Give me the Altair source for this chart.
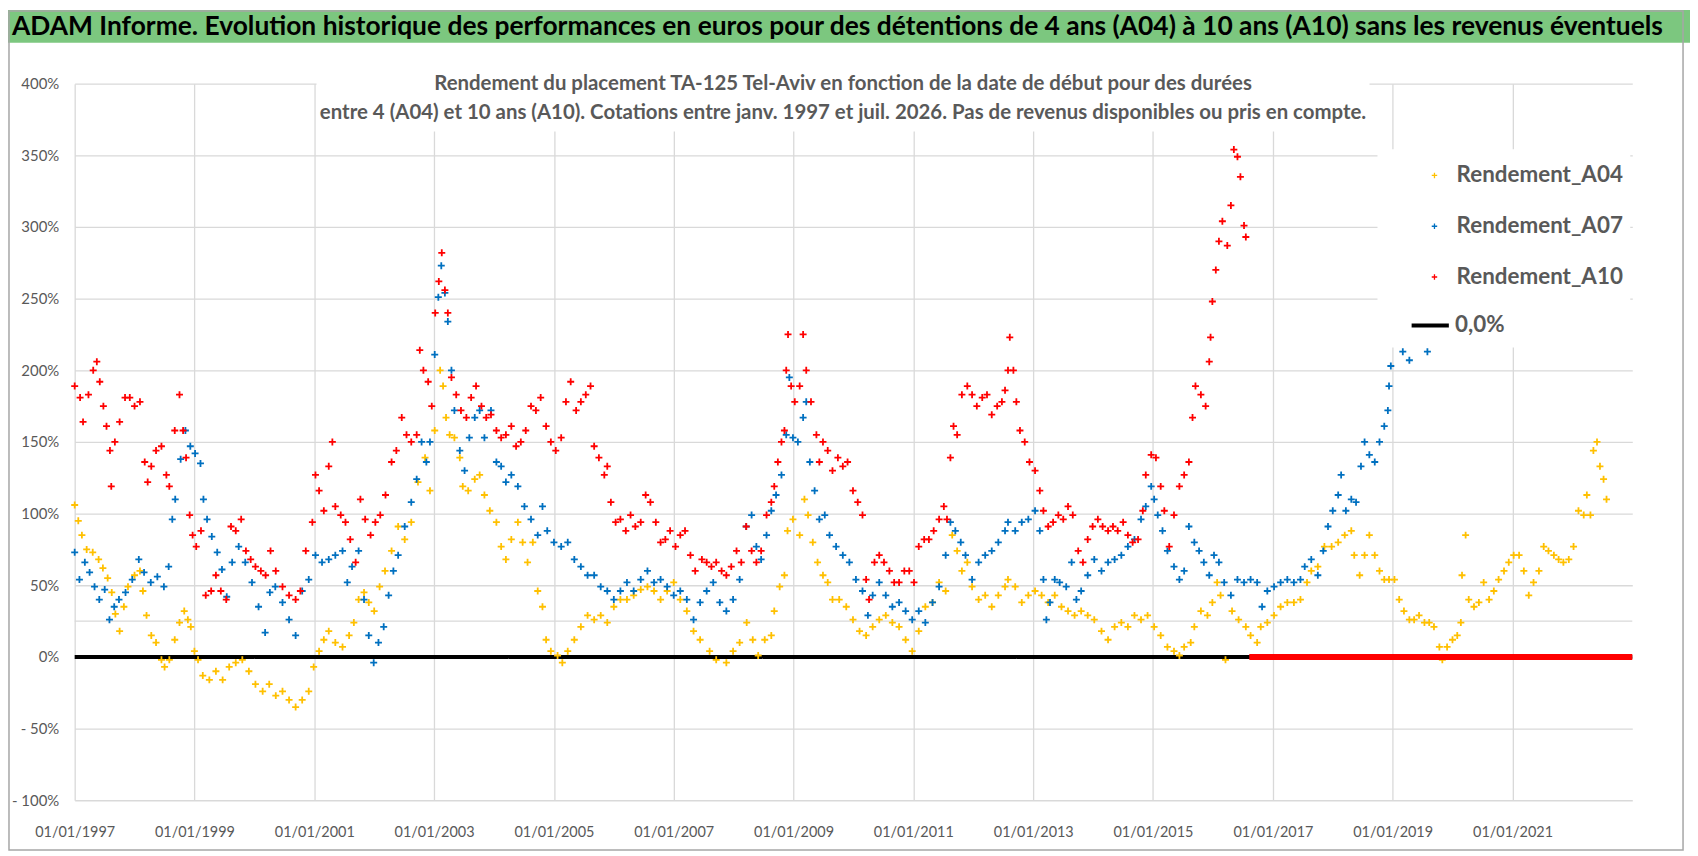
import altair as alt
import pandas as pd

# --- data (decimal year, % return) ---
a04_years = [
    1997.00, 1997.06, 1997.12, 1997.20, 1997.30, 1997.40, 1997.47, 1997.55, 1997.62, 1997.68,
    1997.75, 1997.82, 1997.89, 1998.00, 1998.09, 1998.14, 1998.20, 1998.28, 1998.36, 1998.45,
    1998.50, 1998.58, 1998.67, 1998.75, 1998.83, 1998.89, 1998.94, 1999.00, 1999.06, 1999.14,
    1999.25, 1999.36, 1999.47, 1999.58, 1999.69, 1999.80, 1999.91, 2000.02, 2000.14, 2000.25,
    2000.36, 2000.47, 2000.58, 2000.69, 2000.80, 2000.91, 2000.99, 2001.08, 2001.16, 2001.24,
    2001.35, 2001.47, 2001.58, 2001.66, 2001.74, 2001.83, 2001.91, 2002.00, 2002.09, 2002.18,
    2002.29, 2002.40, 2002.51, 2002.62, 2002.73, 2002.85, 2002.93, 2003.01, 2003.10, 2003.15,
    2003.20, 2003.26, 2003.34, 2003.43, 2003.48, 2003.57, 2003.68, 2003.76, 2003.84, 2003.93,
    2004.04, 2004.12, 2004.20, 2004.29, 2004.40, 2004.48, 2004.56, 2004.65, 2004.73, 2004.81,
    2004.87, 2004.95, 2005.06, 2005.14, 2005.23, 2005.34, 2005.45, 2005.56, 2005.67, 2005.78,
    2005.89, 2006.00, 2006.11, 2006.22, 2006.33, 2006.45, 2006.56, 2006.67, 2006.78, 2006.89,
    2007.00, 2007.11, 2007.22, 2007.33, 2007.44, 2007.60, 2007.71, 2007.88, 2007.99, 2008.10,
    2008.22, 2008.32, 2008.41, 2008.52, 2008.63, 2008.68, 2008.77, 2008.85, 2008.90, 2008.99,
    2009.10, 2009.18, 2009.24, 2009.32, 2009.40, 2009.49, 2009.57, 2009.65, 2009.76, 2009.88,
    2009.99, 2010.10, 2010.21, 2010.32, 2010.43, 2010.54, 2010.65, 2010.76, 2010.87, 2010.98,
    2011.09, 2011.20, 2011.32, 2011.43, 2011.54, 2011.65, 2011.73, 2011.81, 2011.90, 2011.98,
    2012.09, 2012.20, 2012.31, 2012.42, 2012.53, 2012.58, 2012.70, 2012.81, 2012.92, 2013.03,
    2013.14, 2013.25, 2013.36, 2013.47, 2013.58, 2013.69, 2013.80, 2013.91, 2014.02, 2014.14,
    2014.25, 2014.36, 2014.47, 2014.58, 2014.69, 2014.80, 2014.91, 2015.02, 2015.13, 2015.24,
    2015.35, 2015.44, 2015.52, 2015.63, 2015.69, 2015.80, 2015.91, 2015.99, 2016.07, 2016.13,
    2016.21, 2016.32, 2016.43, 2016.55, 2016.63, 2016.74, 2016.80, 2016.91, 2017.02, 2017.13,
    2017.24, 2017.35, 2017.46, 2017.57, 2017.64, 2017.75, 2017.86, 2017.98, 2018.09, 2018.20,
    2018.31, 2018.36, 2018.45, 2018.53, 2018.61, 2018.70, 2018.78, 2018.86, 2018.94, 2019.03,
    2019.11, 2019.19, 2019.28, 2019.36, 2019.44, 2019.53, 2019.61, 2019.69, 2019.78, 2019.83,
    2019.91, 2020.00, 2020.08, 2020.14, 2020.16, 2020.22, 2020.27, 2020.36, 2020.44, 2020.52,
    2020.61, 2020.69, 2020.77, 2020.86, 2020.94, 2021.02, 2021.11, 2021.19, 2021.27, 2021.35,
    2021.44, 2021.52, 2021.60, 2021.69, 2021.77, 2021.85, 2021.94, 2022.02, 2022.10, 2022.19,
    2022.24, 2022.30, 2022.35, 2022.41, 2022.46, 2022.52, 2022.57,
]
a04_values = [
    106, 95, 85, 75, 73, 68, 62, 55, 45, 30,
    18, 35, 49, 57, 60, 46, 29, 15, 10, -2,
    -7, -2, 12, 24, 32, 26, 21, 4, -2, -13,
    -16, -10, -16, -7, -4, -2, -10, -19, -24, -19,
    -27, -24, -30, -35, -30, -24, -7, 4, 12, 18,
    10, 7, 15, 24, 40, 45, 38, 32, 49, 60,
    74, 91, 82, 94, 122, 139, 116, 158, 200, 189,
    167, 155, 153, 139, 119, 116, 124, 127, 113, 102,
    94, 77, 68, 82, 94, 80, 66, 80, 46, 35,
    12, 4, 1, -4, 4, 12, 21, 29, 26, 29,
    24, 35, 40, 40, 43, 47, 49, 46, 40, 46,
    52, 40, 32, 18, 12, 4, -2, -4, 4, 10,
    24, 12, 1, 12, 15, 32, 49, 57, 88, 96,
    85, 110, 99, 80, 66, 57, 52, 40, 40, 35,
    26, 18, 15, 21, 26, 29, 24, 21, 12, 4,
    18, 35, 38, 52, 46, 85, 74, 60, 66, 49,
    40, 43, 35, 43, 49, 54, 49, 38, 43, 46,
    43, 38, 43, 35, 32, 29, 32, 29, 26, 18,
    12, 21, 24, 21, 29, 26, 29, 21, 15, 7,
    4, 1, 7, 10, 21, 32, 29, 38, 52, 43,
    -2, 32, 26, 21, 15, 10, 21, 24, 29, 35,
    38, 38, 40, 52, 60, 63, 77, 77, 80, 85,
    88, 71, 57, 71, 85, 71, 60, 54, 54, 54,
    40, 32, 26, 26, 29, 24, 24, 21, 7, -2,
    7, 12, 15, 24, 57, 85, 40, 35, 38, 52,
    40, 46, 54, 60, 66, 71, 71, 60, 43, 52,
    60, 77, 74, 71, 68, 66, 68, 77, 102, 99,
    113, 99, 144, 150, 133, 124, 110,
]

a07_years = [
    1997.00, 1997.08, 1997.17, 1997.25, 1997.33, 1997.41, 1997.50, 1997.58, 1997.66, 1997.74,
    1997.85, 1997.96, 1998.07, 1998.16, 1998.27, 1998.38, 1998.49, 1998.57, 1998.63, 1998.68,
    1998.77, 1998.85, 1998.93, 1999.01, 1999.10, 1999.15, 1999.21, 1999.29, 1999.38, 1999.46,
    1999.54, 1999.63, 1999.74, 1999.85, 1999.96, 2000.07, 2000.18, 2000.26, 2000.35, 2000.47,
    2000.58, 2000.69, 2000.80, 2000.91, 2001.02, 2001.13, 2001.24, 2001.35, 2001.47, 2001.55,
    2001.63, 2001.74, 2001.83, 2001.91, 2001.99, 2002.07, 2002.16, 2002.24, 2002.32, 2002.40,
    2002.51, 2002.62, 2002.71, 2002.79, 2002.87, 2002.93, 2003.01, 2003.07, 2003.12, 2003.18,
    2003.23, 2003.29, 2003.34, 2003.43, 2003.51, 2003.59, 2003.68, 2003.76, 2003.84, 2003.95,
    2004.04, 2004.12, 2004.20, 2004.29, 2004.40, 2004.51, 2004.62, 2004.73, 2004.81, 2004.89,
    2005.00, 2005.12, 2005.23, 2005.34, 2005.45, 2005.56, 2005.67, 2005.78, 2005.89, 2006.00,
    2006.11, 2006.22, 2006.33, 2006.45, 2006.56, 2006.67, 2006.78, 2006.89, 2007.00, 2007.11,
    2007.22, 2007.33, 2007.44, 2007.55, 2007.66, 2007.77, 2007.88, 2007.99, 2008.10, 2008.21,
    2008.30, 2008.38, 2008.46, 2008.55, 2008.63, 2008.71, 2008.80, 2008.88, 2008.93, 2008.99,
    2009.07, 2009.16, 2009.21, 2009.27, 2009.35, 2009.43, 2009.52, 2009.60, 2009.71, 2009.82,
    2009.93, 2010.04, 2010.15, 2010.24, 2010.32, 2010.43, 2010.54, 2010.65, 2010.76, 2010.87,
    2010.98, 2011.09, 2011.20, 2011.32, 2011.43, 2011.54, 2011.62, 2011.70, 2011.79, 2011.87,
    2011.98, 2012.09, 2012.20, 2012.31, 2012.42, 2012.53, 2012.58, 2012.70, 2012.81, 2012.92,
    2013.03, 2013.11, 2013.17, 2013.22, 2013.28, 2013.36, 2013.44, 2013.55, 2013.64, 2013.72,
    2013.80, 2013.91, 2014.02, 2014.14, 2014.25, 2014.36, 2014.47, 2014.58, 2014.69, 2014.80,
    2014.88, 2014.97, 2015.02, 2015.08, 2015.16, 2015.24, 2015.35, 2015.44, 2015.52, 2015.60,
    2015.69, 2015.77, 2015.85, 2015.94, 2016.02, 2016.10, 2016.19, 2016.30, 2016.41, 2016.52,
    2016.63, 2016.74, 2016.82, 2016.91, 2017.02, 2017.13, 2017.24, 2017.35, 2017.46, 2017.53,
    2017.64, 2017.75, 2017.84, 2017.92, 2018.00, 2018.09, 2018.14, 2018.22, 2018.31, 2018.39,
    2018.47, 2018.53, 2018.61, 2018.70, 2018.78, 2018.86, 2018.92, 2018.94, 2018.97, 2019.17,
    2019.28, 2019.58,
]
a07_values = [
    73, 54, 66, 59, 49, 40, 47, 26, 35, 40,
    45, 54, 68, 59, 52, 56, 49, 63, 96, 110,
    138, 158, 147, 142, 135, 110, 96, 84, 73, 61,
    42, 66, 77, 66, 52, 35, 17, 45, 49, 38,
    26, 15, 46, 54, 71, 66, 68, 71, 74, 52,
    63, 74, 40, 15, -4, 10, 21, 43, 60, 71,
    91, 108, 124, 150, 136, 150, 211, 251, 273, 254,
    234, 200, 172, 144, 130, 153, 167, 172, 153, 172,
    136, 133, 122, 127, 119, 105, 96, 85, 105, 88,
    80, 77, 80, 68, 63, 57, 57, 49, 46, 40,
    46, 52, 46, 54, 60, 52, 54, 49, 43, 46,
    40, 26, 38, 46, 52, 38, 32, 40, 54, 91,
    99, 77, 68, 85, 102, 113, 127, 155, 195, 153,
    150, 167, 178, 136, 116, 96, 99, 85, 77, 71,
    66, 54, 46, 29, 43, 52, 43, 35, 38, 32,
    26, 32, 24, 38, 49, 71, 94, 88, 80, 71,
    54, 66, 71, 74, 80, 88, 94, 88, 94, 96,
    102, 88, 54, 26, 38, 54, 52, 49, 66, 40,
    46, 57, 68, 60, 66, 68, 71, 77, 82, 96,
    105, 119, 110, 99, 88, 74, 63, 54, 60, 91,
    80, 74, 66, 57, 71, 66, 52, 43, 54, 52,
    54, 52, 35, 46, 49, 52, 54, 52, 54, 63,
    68, 57, 74, 91, 102, 113, 127, 102, 110, 108,
    133, 150, 141, 136, 150, 161, 172, 189, 203, 213,
    207, 213,
]

a10_years = [
    1997.00, 1997.09, 1997.14, 1997.23, 1997.31, 1997.37, 1997.42, 1997.48, 1997.53, 1997.59,
    1997.61, 1997.67, 1997.75, 1997.84, 1997.92, 1998.00, 1998.09, 1998.17, 1998.22, 1998.28,
    1998.36, 1998.45, 1998.53, 1998.58, 1998.67, 1998.75, 1998.81, 1998.86, 1998.92, 1998.97,
    1999.03, 1999.11, 1999.19, 1999.28, 1999.36, 1999.44, 1999.53, 1999.61, 1999.69, 1999.78,
    1999.86, 1999.94, 2000.02, 2000.11, 2000.19, 2000.27, 2000.36, 2000.47, 2000.58, 2000.69,
    2000.77, 2000.86, 2000.97, 2001.02, 2001.08, 2001.16, 2001.24, 2001.30, 2001.35, 2001.44,
    2001.52, 2001.60, 2001.69, 2001.77, 2001.85, 2001.94, 2002.02, 2002.10, 2002.19, 2002.29,
    2002.37, 2002.46, 2002.54, 2002.62, 2002.71, 2002.76, 2002.82, 2002.90, 2002.96, 2003.02,
    2003.08, 2003.13, 2003.18, 2003.23, 2003.29, 2003.37, 2003.45, 2003.54, 2003.62, 2003.70,
    2003.79, 2003.87, 2003.95, 2004.04, 2004.12, 2004.20, 2004.29, 2004.37, 2004.45, 2004.53,
    2004.62, 2004.70, 2004.78, 2004.87, 2004.95, 2005.03, 2005.12, 2005.20, 2005.28, 2005.37,
    2005.45, 2005.53, 2005.61, 2005.67, 2005.75, 2005.84, 2005.89, 2005.95, 2006.03, 2006.11,
    2006.20, 2006.28, 2006.36, 2006.45, 2006.53, 2006.61, 2006.70, 2006.78, 2006.86, 2006.94,
    2007.03, 2007.11, 2007.19, 2007.28, 2007.36, 2007.47, 2007.55, 2007.63, 2007.71, 2007.80,
    2007.88, 2007.96, 2008.05, 2008.13, 2008.21, 2008.30, 2008.38, 2008.46, 2008.55, 2008.63,
    2008.68, 2008.74, 2008.80, 2008.85, 2008.88, 2008.91, 2008.96, 2009.02, 2009.10, 2009.16,
    2009.21, 2009.29, 2009.38, 2009.43, 2009.49, 2009.57, 2009.65, 2009.74, 2009.82, 2009.90,
    2009.99, 2010.07, 2010.15, 2010.21, 2010.26, 2010.35, 2010.43, 2010.51, 2010.60, 2010.68,
    2010.76, 2010.85, 2010.93, 2011.01, 2011.09, 2011.18, 2011.26, 2011.34, 2011.43, 2011.51,
    2011.56, 2011.62, 2011.67, 2011.73, 2011.81, 2011.90, 2011.98, 2012.06, 2012.15, 2012.23,
    2012.31, 2012.40, 2012.48, 2012.53, 2012.58, 2012.61, 2012.67, 2012.72, 2012.78, 2012.86,
    2012.94, 2013.03, 2013.11, 2013.17, 2013.25, 2013.33, 2013.42, 2013.50, 2013.58, 2013.66,
    2013.75, 2013.83, 2013.91, 2013.99, 2014.08, 2014.16, 2014.25, 2014.33, 2014.41, 2014.50,
    2014.58, 2014.66, 2014.75, 2014.83, 2014.88, 2014.97, 2015.05, 2015.13, 2015.19, 2015.27,
    2015.35, 2015.44, 2015.52, 2015.60, 2015.66, 2015.71, 2015.80, 2015.88, 2015.94, 2015.96,
    2015.99, 2016.05, 2016.10, 2016.16, 2016.24, 2016.30, 2016.35, 2016.41, 2016.46, 2016.52,
    2016.55,
]
a10_values = [
    189, 181, 164, 183, 200, 206, 192, 175, 161, 144,
    119, 150, 164, 181, 181, 175, 178, 136, 122, 133,
    144, 147, 127, 119, 158, 183, 158, 139, 99, 85,
    77, 88, 43, 46, 57, 46, 40, 91, 88, 96,
    74, 68, 63, 60, 57, 74, 60, 49, 43, 40,
    46, 74, 94, 127, 116, 102, 133, 150, 105, 99,
    94, 82, 66, 110, 96, 85, 94, 99, 113, 136,
    144, 167, 155, 150, 155, 214, 200, 192, 175, 240,
    262, 282, 256, 240, 195, 183, 172, 167, 181, 189,
    175, 167, 169, 158, 153, 155, 161, 147, 150, 158,
    175, 172, 181, 161, 150, 144, 153, 178, 192, 172,
    178, 183, 189, 147, 139, 127, 133, 108, 94, 96,
    88, 99, 91, 94, 113, 108, 94, 80, 82, 88,
    77, 85, 88, 71, 60, 68, 66, 63, 66, 60,
    57, 63, 74, 66, 91, 74, 66, 74, 99, 108,
    119, 136, 150, 158, 200, 225, 189, 178, 189, 225,
    200, 178, 155, 136, 150, 144, 130, 139, 133, 136,
    116, 108, 99, 54, 40, 66, 71, 66, 60, 52,
    52, 60, 60, 52, 77, 82, 82, 88, 96, 105,
    96, 139, 161, 155, 183, 189, 183, 175, 181, 183,
    169, 175, 178, 186, 200, 223, 200, 178, 158, 150,
    136, 130, 116, 102, 91, 94, 99, 96, 105, 99,
    74, 66, 82, 91, 96, 91, 88, 91, 88, 94,
    85, 80, 82, 102, 127, 141, 139, 119, 102, 77,
    99, 119, 127, 136, 167, 189, 183, 175, 206, 223,
    248, 270, 290, 304, 287, 315, 354, 349, 335, 301,
    293,
]

series_names = ["Rendement_A04", "Rendement_A07", "Rendement_A10"]
series_colors = ["#FFC000", "#0070C0", "#FF0000"]

# A10 has no quotes past this date and is plotted as 0 up to the end of the axis
a10_zero_from = "2016-08-10"
x_start = "1997-01-01"
x_end = "2023-01-01"
x_tick_years = [1997, 1999, 2001, 2003, 2005, 2007, 2009, 2011, 2013, 2015, 2017, 2019, 2021]
y_ticks = [-100, -50, 0, 50, 100, 150, 200, 250, 300, 350, 400]
extra_grid = [25]
zero_label = "0,0%"

title_text = ("ADAM Informe. Evolution historique des performances en euros pour des "
              "détentions de 4 ans (A04) à 10 ans (A10) sans les revenus éventuels")
subtitle_1 = ("Rendement du placement TA-125 Tel-Aviv en fonction de la date de début "
              "pour des durées")
subtitle_2 = ("entre 4 (A04) et 10 ans (A10). Cotations entre janv. 1997 et juil. 2026. "
              "Pas de revenus disponibles ou pris en compte.")


def to_dates(years):
    out = []
    for y in years:
        base = pd.Timestamp(year=int(y), month=1, day=1)
        out.append((base + pd.Timedelta(days=round((y - int(y)) * 365.25))).strftime("%Y-%m-%d"))
    return out


points = pd.concat(
    [
        pd.DataFrame({"date": to_dates(yrs), "value": vals, "series": name})
        for name, yrs, vals in zip(
            series_names,
            [a04_years, a07_years, a10_years],
            [a04_values, a07_values, a10_values],
        )
    ],
    ignore_index=True,
)

W, H = 1565, 720
FONT = "Lato"
GREY = "#595959"
PLUS = "M-1,0L1,0M0,-1L0,1"

x_scale = alt.Scale(type="utc", domain=[x_start, x_end])
y_scale = alt.Scale(domain=[-100, 400], nice=False)
x_axis = alt.Axis(
    values=[alt.DateTime(year=y, month=1, date=1, utc=True) for y in x_tick_years],
    labelExpr="utcFormat(datum.value, '%d/%m/%Y')",
    title=None,
    labelPadding=25,
    labelOverlap=False,
    labelFlush=False,
    labelFontSize=14.5,
)
y_axis = alt.Axis(
    values=y_ticks,
    labelExpr="datum.value < 0 ? '- ' + (-datum.value) + '%' : datum.value + '%'",
    title=None,
    labelPadding=16,
)

grid25 = (
    alt.Chart(pd.DataFrame({"value": extra_grid}))
    .mark_rule(color="#D9D9D9", strokeWidth=1.3)
    .encode(y=alt.Y("value:Q", scale=y_scale, axis=y_axis))
)

zero_line = (
    alt.Chart(pd.DataFrame({"start": [x_start], "end": [x_end], "value": [0], "label": [zero_label]}))
    .mark_rule(color="black", strokeWidth=4)
    .encode(
        x=alt.X("start:T", scale=x_scale, axis=x_axis),
        x2="end:T",
        y=alt.Y("value:Q", scale=y_scale, axis=y_axis),
        strokeDash=alt.StrokeDash(
            "label:N",
            scale=alt.Scale(domain=[zero_label], range=[[1, 0]]),
            legend=alt.Legend(
                orient="none", legendX=1341, legendY=222, title=None, padding=0,
                symbolType="stroke", symbolSize=1400, symbolStrokeWidth=4,
                symbolStrokeColor="black", labelOffset=4, labelLimit=300,
                labelFont=FONT, labelFontSize=22.5, labelFontWeight="bold", labelColor=GREY,
            ),
        ),
    )
)

scatter = (
    alt.Chart(points)
    .mark_point(shape=PLUS, size=49, strokeWidth=1.8, filled=False, opacity=1)
    .encode(
        x=alt.X("date:T", scale=x_scale, axis=x_axis),
        y=alt.Y("value:Q", scale=y_scale, axis=y_axis),
        color=alt.Color(
            "series:N",
            scale=alt.Scale(domain=series_names, range=series_colors),
            legend=alt.Legend(
                orient="none", legendX=1344, legendY=81, title=None, padding=0,
                symbolType=PLUS, symbolSize=30, symbolStrokeWidth=1.3, symbolOffset=11,
                labelOffset=11, rowPadding=28, labelLimit=300,
                labelFont=FONT, labelFontSize=22.5, labelFontWeight="bold", labelColor=GREY,
            ),
        ),
    )
)

a10_tail = (
    alt.Chart(pd.DataFrame({"start": [a10_zero_from], "end": [x_end], "value": [0]}))
    .mark_rule(color="#FF0000", strokeWidth=6)
    .encode(
        x=alt.X("start:T", scale=x_scale, axis=x_axis),
        x2="end:T",
        y=alt.Y("value:Q", scale=y_scale, axis=y_axis),
    )
)

one = alt.Data(values=[{}])

# white boxes behind the subtitle and the legend (as in the source sheet)
subtitle_box = alt.Chart(one).mark_rect(color="white").encode(
    x=alt.value(243), x2=alt.value(1301), y=alt.value(-12), y2=alt.value(48)
)
legend_box = alt.Chart(one).mark_rect(color="white").encode(
    x=alt.value(1309), x2=alt.value(1563), y=alt.value(66), y2=alt.value(265)
)

sub_style = dict(font=FONT, fontSize=20.5, fontWeight="bold", color=GREY, align="center")
sub1 = alt.Chart(one).mark_text(**sub_style).encode(
    x=alt.value(772), y=alt.value(0), text=alt.value(subtitle_1)
)
sub2 = alt.Chart(one).mark_text(**sub_style).encode(
    x=alt.value(772), y=alt.value(30), text=alt.value(subtitle_2)
)

title_bar = alt.Chart(one).mark_rect(color="#7CC77F").encode(
    x=alt.value(-67), x2=alt.value(1623), y=alt.value(-74), y2=alt.value(-41)
)
title = alt.Chart(one).mark_text(
    font=FONT, fontSize=26.5, fontWeight="bold", color="black", align="left", baseline="middle"
).encode(x=alt.value(-63), y=alt.value(-57), text=alt.value(title_text))

frame = alt.Chart(one).mark_rect(fillOpacity=0, stroke="#A6A6A6", strokeWidth=1.5).encode(
    x=alt.value(-66), x2=alt.value(1616), y=alt.value(-73), y2=alt.value(770)
)

chart = (
    alt.layer(
        grid25, zero_line, scatter, a10_tail,
        subtitle_box, legend_box, sub1, sub2, title_bar, title, frame,
    )
    .properties(
        width=W,
        height=H,
        autosize=alt.AutoSizeParams(type="none"),
        padding={"left": 67, "top": 74, "right": 58, "bottom": 54},
        background="white",
    )
    .configure_view(strokeWidth=0)
    .configure_axis(
        grid=True,
        gridColor="#D9D9D9",
        gridWidth=1.3,
        domain=False,
        ticks=False,
        labelFont=FONT,
        labelFontSize=15,
        labelColor=GREY,
    )
)

chart.save("out.html", embed_options={"renderer": "svg", "actions": False})
